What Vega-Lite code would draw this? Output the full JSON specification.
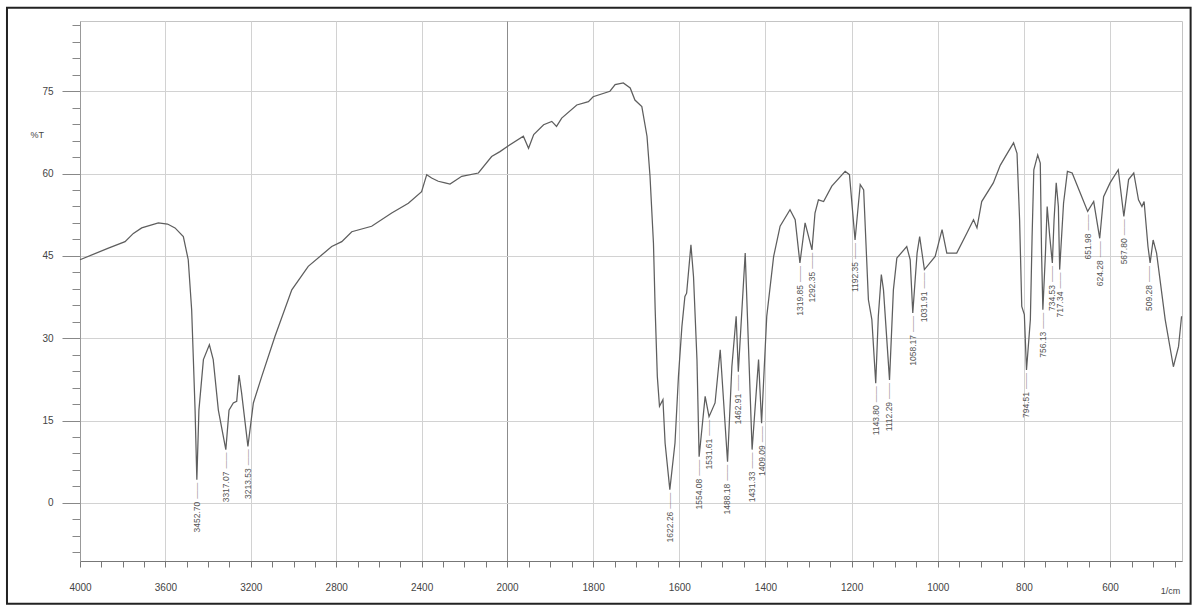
{
  "$schema": "https://vega.github.io/schema/vega-lite/v6.json",
  "width": 1102,
  "height": 540,
  "autosize": {"type": "none"},
  "padding": {"left": 80, "top": 21, "right": 14, "bottom": 49},
  "background": "white",
  "config": {
    "view": {"stroke": "#c4c4c4", "strokeWidth": 1},
    "font": "Liberation Sans"
  },
  "datasets": {
    "spectrum": [
      {"wn": 4000, "T": 44.3}, {"wn": 3867, "T": 46.4}, {"wn": 3789, "T": 47.6}, {"wn": 3750, "T": 49.1},
      {"wn": 3711, "T": 50.1}, {"wn": 3633, "T": 51.0}, {"wn": 3590, "T": 50.8}, {"wn": 3555, "T": 50.1},
      {"wn": 3516, "T": 48.5}, {"wn": 3493, "T": 44.3}, {"wn": 3477, "T": 35.2}, {"wn": 3469, "T": 26.1},
      {"wn": 3461, "T": 16.9}, {"wn": 3452.7, "T": 4.2}, {"wn": 3443, "T": 16.9}, {"wn": 3422, "T": 26.1},
      {"wn": 3394, "T": 28.8}, {"wn": 3376, "T": 26.1}, {"wn": 3352, "T": 16.9}, {"wn": 3317, "T": 9.7},
      {"wn": 3302, "T": 16.9}, {"wn": 3282, "T": 18.2}, {"wn": 3266, "T": 18.5}, {"wn": 3255, "T": 23.3},
      {"wn": 3243, "T": 20.0}, {"wn": 3213.5, "T": 10.3}, {"wn": 3188, "T": 18.2}, {"wn": 3149, "T": 23.0},
      {"wn": 3087, "T": 30.3}, {"wn": 3008, "T": 38.8}, {"wn": 2931, "T": 43.1}, {"wn": 2821, "T": 46.7},
      {"wn": 2774, "T": 47.6}, {"wn": 2727, "T": 49.4}, {"wn": 2634, "T": 50.4}, {"wn": 2540, "T": 52.8},
      {"wn": 2462, "T": 54.6}, {"wn": 2400, "T": 56.7}, {"wn": 2376, "T": 59.8}, {"wn": 2353, "T": 59.2},
      {"wn": 2322, "T": 58.6}, {"wn": 2290, "T": 58.3}, {"wn": 2267, "T": 58.1}, {"wn": 2212, "T": 59.5},
      {"wn": 2134, "T": 60.1}, {"wn": 2072, "T": 63.1}, {"wn": 2033, "T": 64.0}, {"wn": 2000, "T": 64.9},
      {"wn": 1962, "T": 66.8}, {"wn": 1950, "T": 64.6}, {"wn": 1938, "T": 67.1}, {"wn": 1915, "T": 68.9},
      {"wn": 1896, "T": 69.5}, {"wn": 1885, "T": 68.6}, {"wn": 1873, "T": 70.1}, {"wn": 1838, "T": 72.5},
      {"wn": 1811, "T": 73.1}, {"wn": 1800, "T": 74.0}, {"wn": 1761, "T": 75.0}, {"wn": 1749, "T": 76.2},
      {"wn": 1730, "T": 76.5}, {"wn": 1714, "T": 75.6}, {"wn": 1703, "T": 73.4}, {"wn": 1687, "T": 72.2},
      {"wn": 1675, "T": 66.8}, {"wn": 1668, "T": 59.5}, {"wn": 1660, "T": 47.3}, {"wn": 1656, "T": 35.2},
      {"wn": 1651, "T": 23.0}, {"wn": 1646, "T": 17.6}, {"wn": 1638, "T": 18.8}, {"wn": 1633, "T": 10.9},
      {"wn": 1622, "T": 2.4}, {"wn": 1610, "T": 10.9}, {"wn": 1602, "T": 23.0}, {"wn": 1594, "T": 32.1},
      {"wn": 1587, "T": 37.6}, {"wn": 1583, "T": 38.2}, {"wn": 1573, "T": 47.0}, {"wn": 1567, "T": 41.2},
      {"wn": 1559, "T": 26.1}, {"wn": 1554, "T": 8.4}, {"wn": 1540, "T": 19.4}, {"wn": 1531, "T": 15.7},
      {"wn": 1517, "T": 18.2}, {"wn": 1505, "T": 27.9}, {"wn": 1488, "T": 7.5}, {"wn": 1478, "T": 24.8},
      {"wn": 1468, "T": 34.0}, {"wn": 1463, "T": 23.9}, {"wn": 1447, "T": 45.5}, {"wn": 1431, "T": 9.7},
      {"wn": 1416, "T": 26.1}, {"wn": 1409, "T": 14.5}, {"wn": 1397, "T": 34.0}, {"wn": 1381, "T": 44.9},
      {"wn": 1366, "T": 50.4}, {"wn": 1343, "T": 53.4}, {"wn": 1331, "T": 51.6}, {"wn": 1320, "T": 43.7},
      {"wn": 1308, "T": 51.0}, {"wn": 1292, "T": 46.1}, {"wn": 1285, "T": 52.8}, {"wn": 1277, "T": 55.2},
      {"wn": 1265, "T": 54.9}, {"wn": 1246, "T": 57.7}, {"wn": 1215, "T": 60.4}, {"wn": 1205, "T": 59.8},
      {"wn": 1192, "T": 47.9}, {"wn": 1180, "T": 58.0}, {"wn": 1172, "T": 57.0}, {"wn": 1161, "T": 37.0},
      {"wn": 1153, "T": 33.4}, {"wn": 1144, "T": 21.8}, {"wn": 1138, "T": 34.0}, {"wn": 1131, "T": 41.6},
      {"wn": 1126, "T": 38.8}, {"wn": 1112, "T": 22.4}, {"wn": 1103, "T": 38.8}, {"wn": 1095, "T": 44.6},
      {"wn": 1072, "T": 46.7}, {"wn": 1064, "T": 44.3}, {"wn": 1058, "T": 34.6}, {"wn": 1048, "T": 45.5},
      {"wn": 1042, "T": 48.5}, {"wn": 1031, "T": 42.5}, {"wn": 1006, "T": 44.9}, {"wn": 990, "T": 49.8},
      {"wn": 979, "T": 45.5}, {"wn": 956, "T": 45.5}, {"wn": 932, "T": 49.2}, {"wn": 917, "T": 51.6},
      {"wn": 909, "T": 50.1}, {"wn": 898, "T": 54.9}, {"wn": 871, "T": 58.3}, {"wn": 855, "T": 61.5},
      {"wn": 840, "T": 63.5}, {"wn": 824, "T": 65.6}, {"wn": 816, "T": 63.7}, {"wn": 810, "T": 51.6},
      {"wn": 805, "T": 35.8}, {"wn": 799, "T": 34.3}, {"wn": 794, "T": 24.2}, {"wn": 785, "T": 33.4},
      {"wn": 781, "T": 48.5}, {"wn": 777, "T": 60.7}, {"wn": 768, "T": 63.4}, {"wn": 762, "T": 61.9},
      {"wn": 759, "T": 45.5}, {"wn": 756, "T": 35.2}, {"wn": 750, "T": 45.5}, {"wn": 746, "T": 54.0},
      {"wn": 740, "T": 48.5}, {"wn": 734, "T": 43.7}, {"wn": 730, "T": 51.6}, {"wn": 725, "T": 58.3},
      {"wn": 720, "T": 54.0}, {"wn": 717, "T": 42.5}, {"wn": 708, "T": 54.6}, {"wn": 699, "T": 60.4},
      {"wn": 688, "T": 60.1}, {"wn": 669, "T": 56.4}, {"wn": 652, "T": 53.1}, {"wn": 638, "T": 54.9},
      {"wn": 624, "T": 48.2}, {"wn": 615, "T": 55.8}, {"wn": 600, "T": 58.3}, {"wn": 581, "T": 60.7},
      {"wn": 568, "T": 52.2}, {"wn": 557, "T": 58.9}, {"wn": 545, "T": 60.1}, {"wn": 534, "T": 55.2},
      {"wn": 526, "T": 54.0}, {"wn": 521, "T": 54.9}, {"wn": 512, "T": 46.7}, {"wn": 507, "T": 43.7},
      {"wn": 500, "T": 47.9}, {"wn": 492, "T": 45.5}, {"wn": 472, "T": 33.4}, {"wn": 453, "T": 24.8},
      {"wn": 441, "T": 28.5}, {"wn": 434, "T": 34.0}
    ],
    "peaks": [
      {"wn": 3452.7, "T": 4.2, "label": "3452.70"},
      {"wn": 3317.07, "T": 9.7, "label": "3317.07"},
      {"wn": 3213.53, "T": 10.3, "label": "3213.53"},
      {"wn": 1622.26, "T": 2.4, "label": "1622.26"},
      {"wn": 1554.08, "T": 8.4, "label": "1554.08"},
      {"wn": 1531.61, "T": 15.7, "label": "1531.61"},
      {"wn": 1488.18, "T": 7.5, "label": "1488.18"},
      {"wn": 1462.91, "T": 23.9, "label": "1462.91"},
      {"wn": 1431.33, "T": 9.7, "label": "1431.33"},
      {"wn": 1409.09, "T": 14.5, "label": "1409.09"},
      {"wn": 1319.85, "T": 43.7, "label": "1319.85"},
      {"wn": 1292.35, "T": 46.1, "label": "1292.35"},
      {"wn": 1192.35, "T": 47.9, "label": "1192.35"},
      {"wn": 1143.8, "T": 21.8, "label": "1143.80"},
      {"wn": 1112.29, "T": 22.4, "label": "1112.29"},
      {"wn": 1058.17, "T": 34.6, "label": "1058.17"},
      {"wn": 1031.91, "T": 42.5, "label": "1031.91"},
      {"wn": 794.51, "T": 24.2, "label": "794.51"},
      {"wn": 756.13, "T": 35.2, "label": "756.13"},
      {"wn": 734.53, "T": 43.7, "label": "734.53"},
      {"wn": 717.34, "T": 42.5, "label": "717.34"},
      {"wn": 651.98, "T": 53.1, "label": "651.98"},
      {"wn": 624.28, "T": 48.2, "label": "624.28"},
      {"wn": 567.8, "T": 52.2, "label": "567.80"},
      {"wn": 509.28, "T": 43.7, "label": "509.28"}
    ]
  },
  "layer": [
    {
      "data": {"name": "spectrum"},
      "mark": {"type": "line", "color": "#5e5e5e", "strokeWidth": 1.25},
      "encoding": {
        "x": {
          "field": "wn",
          "type": "quantitative",
          "scale": {"domain": [4000, 2000, 433], "range": [0, 427, 1102], "nice": false, "zero": false},
          "axis": {
            "values": [4000,3900,3800,3700,3600,3500,3400,3300,3200,3100,3000,2900,2800,2700,2600,2500,2400,2300,2200,2100,2000,1950,1900,1850,1800,1750,1700,1650,1600,1550,1500,1450,1400,1350,1300,1250,1200,1150,1100,1050,1000,950,900,850,800,750,700,650,600,550,500,450],
            "tickCount": 200,
            "format": "d",
            "labelExpr": "((datum.value >= 2000 && datum.value % 400 === 0) || (datum.value <= 2000 && datum.value % 200 === 0)) ? datum.label : ''",
            "labelOverlap": false,
            "labelFlush": false,
            "labelFontSize": 10,
            "labelColor": "#444444",
            "labelPadding": 15,
            "grid": true,
            "gridColor": {"condition": {"test": "datum.value === 2000", "value": "#8c8c8c"}, "value": "#d2d2d2"},
            "gridOpacity": {"condition": {"test": "(datum.value >= 2000 && datum.value % 400 === 0) || (datum.value <= 2000 && datum.value % 200 === 0)", "value": 1}, "value": 0},
            "tickSize": 6,
            "tickColor": "#777777",
            "domainColor": "#777777",
            "title": "1/cm",
            "titleFontSize": 9,
            "titleFontWeight": "normal",
            "titleColor": "#444444",
            "titleX": 1090,
            "titleY": 29,
            "titleAlign": "center",
            "titleBaseline": "middle"
          }
        },
        "y": {
          "field": "T",
          "type": "quantitative",
          "scale": {"domain": [-10.6, 87.8], "nice": false, "zero": false},
          "axis": {
            "values": [-9,-6,-3,0,3,6,9,12,15,18,21,24,27,30,33,36,39,42,45,48,51,54,57,60,63,66,69,72,75,78,81,84,87],
            "tickCount": 200,
            "format": "d",
            "labelExpr": "datum.value % 15 === 0 ? datum.label : ''",
            "labelOverlap": false,
            "labelFlush": false,
            "labelFontSize": 10,
            "labelColor": "#444444",
            "labelPadding": 9,
            "grid": true,
            "gridColor": "#d2d2d2",
            "gridOpacity": {"condition": {"test": "datum.value % 15 === 0", "value": 1}, "value": 0},
            "tickSize": {"condition": {"test": "datum.value % 15 === 0", "value": 18}, "value": 8},
            "tickColor": "#888888",
            "domainColor": "#999999",
            "title": "%T",
            "titleAngle": 0,
            "titleFontSize": 9,
            "titleFontWeight": "normal",
            "titleColor": "#444444",
            "titleX": -50,
            "titleY": 113,
            "titleAlign": "left",
            "titleBaseline": "middle"
          }
        }
      }
    },
    {
      "data": {"name": "peaks"},
      "mark": {"type": "text", "text": "——", "angle": 270, "align": "right", "baseline": "middle", "dx": -3, "fontSize": 8, "color": "#777777"},
      "encoding": {
        "x": {"field": "wn", "type": "quantitative"},
        "y": {"field": "T", "type": "quantitative"}
      }
    },
    {
      "data": {"name": "peaks"},
      "mark": {"type": "text", "angle": 270, "align": "right", "baseline": "middle", "dx": -22, "fontSize": 8.5, "color": "#555555"},
      "encoding": {
        "x": {"field": "wn", "type": "quantitative"},
        "y": {"field": "T", "type": "quantitative"},
        "text": {"field": "label"}
      }
    },
    {
      "data": {"values": [{}]},
      "mark": {"type": "rect", "filled": false, "stroke": "#222222", "strokeWidth": 2},
      "encoding": {
        "x": {"datum": 4342, "type": "quantitative"},
        "x2": {"datum": 413},
        "y": {"datum": 90.2, "type": "quantitative"},
        "y2": {"datum": -18.4}
      }
    }
  ]
}
